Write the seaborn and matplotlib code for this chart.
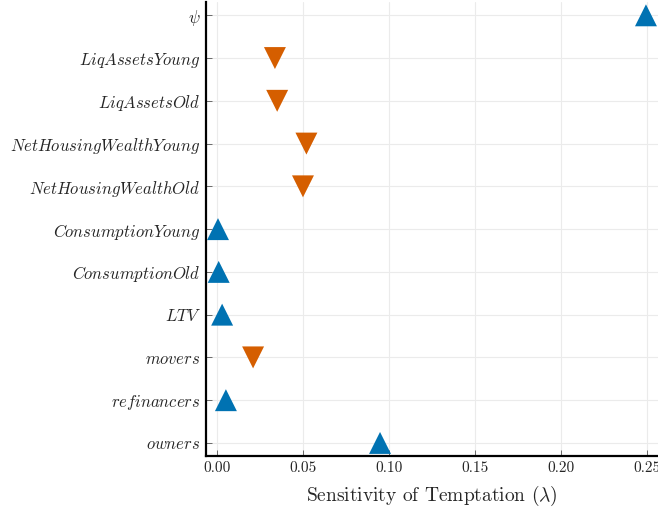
import matplotlib
matplotlib.use("Agg")
import matplotlib.pyplot as plt
import seaborn as sns
import pandas as pd

# Data (bottom to top)
labels = ["owners", "refinancers", "movers", "LTV", "ConsumptionOld",
          "ConsumptionYoung", "NetHousingWealthOld", "NetHousingWealthYoung",
          "LiqAssetsOld", "LiqAssetsYoung", "ψ"]
tex_labels = [r"$owners$", r"$refinancers$", r"$movers$", r"$LTV$", r"$ConsumptionOld$",
              r"$ConsumptionYoung$", r"$NetHousingWealthOld$", r"$NetHousingWealthYoung$",
              r"$LiqAssetsOld$", r"$LiqAssetsYoung$", r"$\psi$"]
values = [0.0948, 0.0052, 0.0210, 0.0030, 0.0010,
          0.0006, 0.0500, 0.0520, 0.0350, 0.0337, 0.2494]
direction = ["up", "up", "down", "up", "up",
             "up", "down", "down", "down", "down", "up"]
xticks = [0.00, 0.05, 0.10, 0.15, 0.20, 0.25]

sns.set_theme(style="white")
plt.rcParams["mathtext.fontset"] = "cm"
plt.rcParams["font.family"] = ["cmr10", "DejaVu Serif"]
plt.rcParams["axes.unicode_minus"] = False

df = pd.DataFrame({"label": labels, "pos": range(len(labels)),
                   "value": values, "dir": direction})

fig = plt.figure(figsize=(6.58, 5.12), dpi=100)
ax = fig.add_axes([0.313, 0.109, 0.687, 0.887])

sns.scatterplot(data=df, x="value", y="pos", hue="dir", style="dir",
                markers={"up": "^", "down": "v"},
                palette={"up": "#0072B2", "down": "#D55E00"},
                s=250, linewidth=0, legend=False, ax=ax, zorder=3)

ax.set_xlim(-0.0064, 0.2564)
ax.set_ylim(-0.31, 10.31)
ax.set_yticks(range(len(labels)))
ax.set_yticklabels(tex_labels, fontsize=12)
ax.set_xticks(xticks)
ax.set_xticklabels([f"{t:.2f}" for t in xticks], fontsize=11)
ax.set_xlabel(r"Sensitivity of Temptation ($\lambda$)", fontsize=14, labelpad=6)
ax.set_ylabel("")

ax.grid(True, color="#ebebeb", linewidth=0.8)
ax.set_axisbelow(True)
for side in ["top", "right"]:
    ax.spines[side].set_visible(False)
for side in ["left", "bottom"]:
    ax.spines[side].set_color("black")
    ax.spines[side].set_linewidth(1.6)
ax.tick_params(axis="both", direction="in", length=4, width=0.6,
               color="#555555", left=True, bottom=True, pad=4)

fig.savefig("out.png", dpi=100)
